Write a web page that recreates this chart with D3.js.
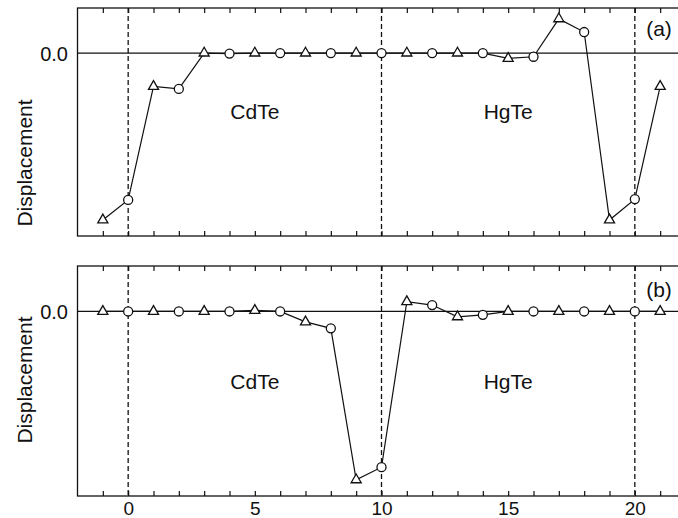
<!DOCTYPE html>
<html>
<head>
<meta charset="utf-8">
<script src="https://cdn.jsdelivr.net/npm/d3@7"></script>
<style>
  body { margin: 0; background: #fff; }
  text { font-family: "Liberation Sans", Arial, sans-serif; fill: #111; }
</style>
</head>
<body>
<div id="chart"></div>
<script>
// layer index along the superlattice
var layers = [-1, 0, 1, 2, 3, 4, 5, 6, 7, 8, 9, 10, 11, 12, 13, 14, 15, 16, 17, 18, 19, 20, 21];
var markers = ["tri", "circ", "tri", "circ", "tri", "circ", "tri", "circ", "tri", "circ", "tri", "circ",
               "tri", "circ", "tri", "circ", "tri", "circ", "tri", "circ", "tri", "circ", "tri"];
var dispA = [-1.0, -0.88, -0.20, -0.215, 0.0, -0.003, 0.0, 0.0, 0.0, 0.0, 0.0, 0.0,
             0.0, 0.0, 0.0, 0.0, -0.032, -0.022, 0.205, 0.126, -1.0, -0.875, -0.20];
var dispB = [0.0, 0.0, 0.0, 0.0, 0.0, 0.0, 0.006, 0.0, -0.062, -0.10, -1.0, -0.925,
             0.058, 0.038, -0.032, -0.02, 0.0, 0.0, 0.0, 0.0, 0.0, 0.0, 0.0];
var boundaries = [0, 10, 20];
var xTicks = [0, 5, 10, 15, 20];
var regions = [{name: "CdTe", x: 5}, {name: "HgTe", x: 15}];

var W = 678, H = 518;
var svg = d3.select("#chart").append("svg")
    .attr("width", W).attr("height", H);

var x = d3.scaleLinear().domain([-2, 22]).range([77.5, 685.5]);

var panels = [
  {data: dispA, top: 8, bottom: 236, tag: "(a)", tagY: 36, regY: 118.5, labY: 163, showLabels: false},
  {data: dispB, top: 266, bottom: 496, tag: "(b)", tagY: 297, regY: 389, labY: 380, showLabels: true}
];

panels.forEach(function(p) {
  var y = d3.scaleLinear().domain([-1.096, 0.27]).range([p.bottom, p.top]);
  var g = svg.append("g");

  // frame
  g.append("rect")
      .attr("x", x(-2)).attr("y", y(0.27))
      .attr("width", x(22) - x(-2)).attr("height", y(-1.096) - y(0.27))
      .attr("fill", "none").attr("stroke", "#111").attr("stroke-width", 1.3);

  // inward ticks bottom and top
  var bottomAxis = d3.axisTop(x).tickValues(d3.range(-1, 22)).tickSize(5).tickFormat("");
  g.append("g").attr("transform", "translate(0," + p.bottom + ")").call(bottomAxis)
      .call(function(s) { s.select(".domain").remove(); });
  var topAxis = d3.axisBottom(x).tickValues(d3.range(-1, 22)).tickSize(5).tickFormat("");
  g.append("g").attr("transform", "translate(0," + p.top + ")").call(topAxis)
      .call(function(s) { s.select(".domain").remove(); });
  g.selectAll(".tick line").attr("stroke", "#111").attr("stroke-width", 1.2);

  if (p.showLabels) {
    var lab = d3.axisBottom(x).tickValues(xTicks).tickSize(0).tickPadding(6);
    g.append("g").attr("transform", "translate(0," + p.bottom + ")").call(lab)
        .call(function(s) {
          s.select(".domain").remove();
          s.selectAll("text").style("font-size", "19px")
            .style("font-family", "'Liberation Sans', Arial, sans-serif").attr("fill", "#111");
        });
  }

  // zero line
  g.append("line")
      .attr("x1", x(-2)).attr("x2", x(22))
      .attr("y1", y(0)).attr("y2", y(0))
      .attr("stroke", "#111").attr("stroke-width", 1.3);

  // interface boundaries
  g.selectAll(".bd").data(boundaries).enter().append("line")
      .attr("x1", function(d) { return x(d); }).attr("x2", function(d) { return x(d); })
      .attr("y1", p.top).attr("y2", p.bottom)
      .attr("stroke", "#111").attr("stroke-width", 1.3)
      .attr("stroke-dasharray", "5,3");

  g.append("text").attr("x", 68).attr("y", y(0) + 8)
      .attr("text-anchor", "end").style("font-size", "20px").text("0.0");

  g.append("text")
      .attr("transform", "translate(32," + p.labY + ") rotate(-90)")
      .attr("text-anchor", "middle").style("font-size", "21px").text("Displacement");

  g.selectAll(".reg").data(regions).enter().append("text")
      .attr("x", function(d) { return x(d.x); })
      .attr("y", p.regY)
      .attr("text-anchor", "middle").style("font-size", "21px")
      .text(function(d) { return d.name; });

  g.append("text").attr("x", 659).attr("y", p.tagY)
      .attr("text-anchor", "middle").style("font-size", "21px").text(p.tag);

  var pts = layers.map(function(l, i) { return {x: l, y: p.data[i], m: markers[i]}; });

  var line = d3.line()
      .x(function(d) { return x(d.x); })
      .y(function(d) { return y(d.y); });
  g.append("path").datum(pts)
      .attr("d", line).attr("fill", "none")
      .attr("stroke", "#111").attr("stroke-width", 1.2);

  var tri = d3.symbol().type(d3.symbolTriangle).size(44);
  g.selectAll(".pt").data(pts).enter().append("path")
      .attr("transform", function(d) { return "translate(" + x(d.x) + "," + y(d.y) + ")"; })
      .attr("d", function(d) {
        return d.m === "tri" ? tri() : d3.symbol().type(d3.symbolCircle).size(64)();
      })
      .attr("fill", "#fff").attr("stroke", "#111").attr("stroke-width", 1.3);
});
</script>
</body>
</html>
